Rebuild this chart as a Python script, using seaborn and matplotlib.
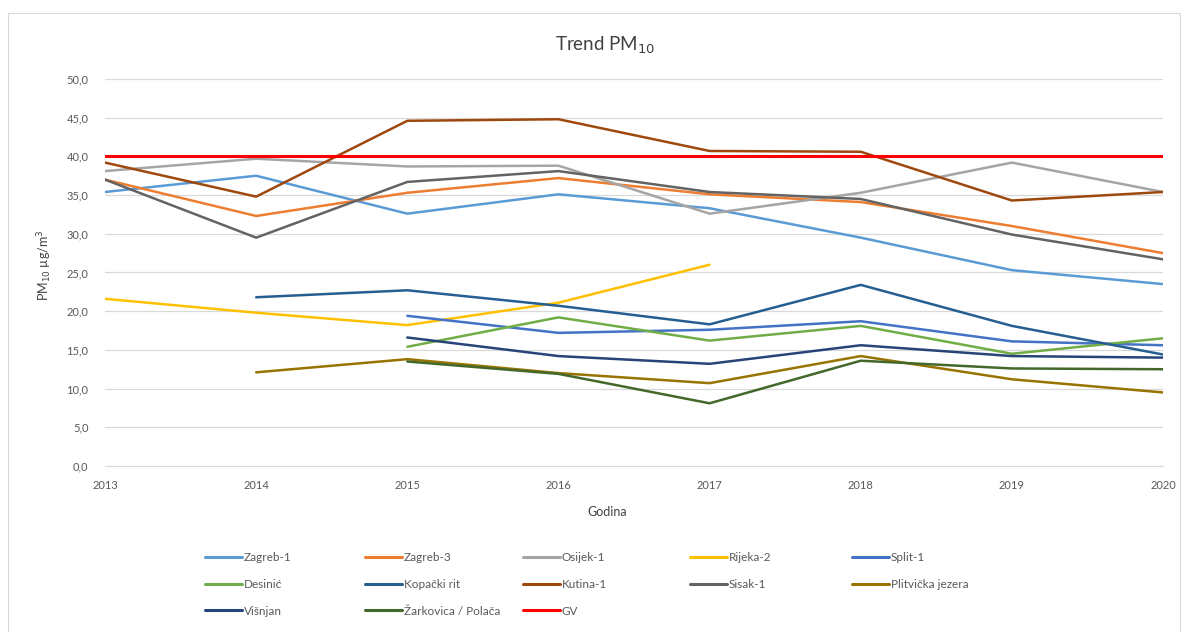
import numpy as np
import pandas as pd
import matplotlib
matplotlib.use("Agg")
import matplotlib.pyplot as plt
import seaborn as sns
from matplotlib.ticker import FuncFormatter, MultipleLocator
from matplotlib.patches import Rectangle

# data (PM10 annual means, ug/m3)
years = [2013, 2014, 2015, 2016, 2017, 2018, 2019, 2020]

zagreb_1 = [35.4, 37.5, 32.6, 35.1, 33.3, 29.5, 25.3, 23.5]
zagreb_3 = [37.0, 32.3, 35.3, 37.2, 35.1, 34.1, 31.0, 27.5]
osijek_1 = [38.1, 39.7, 38.7, 38.8, 32.6, 35.3, 39.2, 35.4]
rijeka_2 = [21.6, 19.8, 18.2, 21.1, 26.0, None, None, None]
split_1 = [None, None, 19.4, 17.2, 17.6, 18.7, 16.1, 15.6]
desinic = [None, None, 15.4, 19.2, 16.2, 18.1, 14.5, 16.5]
kopacki_rit = [None, 21.8, 22.7, 20.7, 18.3, 23.4, 18.1, 14.4]
kutina_1 = [39.2, 34.8, 44.6, 44.8, 40.7, 40.6, 34.3, 35.4]
sisak_1 = [37.0, 29.5, 36.7, 38.1, 35.4, 34.5, 29.9, 26.7]
plitvicka = [None, 12.1, 13.8, 12.0, 10.7, 14.2, 11.2, 9.5]
visnjan = [None, None, 16.6, 14.2, 13.2, 15.6, 14.2, 14.0]
zarkovica = [None, None, 13.5, 11.9, 8.1, 13.6, 12.6, 12.5]
gv = [40.0] * 8

series = {
    "Zagreb-1": zagreb_1,
    "Zagreb-3": zagreb_3,
    "Osijek-1": osijek_1,
    "Rijeka-2": rijeka_2,
    "Split-1": split_1,
    "Desinić": desinic,
    "Kopački rit": kopacki_rit,
    "Kutina-1": kutina_1,
    "Sisak-1": sisak_1,
    "Plitvička jezera": plitvicka,
    "Višnjan": visnjan,
    "Žarkovica / Polača": zarkovica,
    "GV": gv,
}

colors = {
    "Zagreb-1": "#5B9BD5",
    "Zagreb-3": "#ED7D31",
    "Osijek-1": "#A5A5A5",
    "Rijeka-2": "#FFC000",
    "Split-1": "#4472C4",
    "Desinić": "#70AD47",
    "Kopački rit": "#255E91",
    "Kutina-1": "#9E480E",
    "Sisak-1": "#636363",
    "Plitvička jezera": "#997300",
    "Višnjan": "#264478",
    "Žarkovica / Polača": "#43682B",
    "GV": "#FF0000",
}

rows = []
for name, vals in series.items():
    for y, v in zip(years, vals):
        if v is not None:
            rows.append({"Godina": y, "PM10": v, "Postaja": name})
df = pd.DataFrame(rows)

sns.set_style("white")
plt.rcParams['font.family'] = ['Lato', 'DejaVu Sans']

fig = plt.figure(figsize=(11.88, 6.32), dpi=100)
ax = fig.add_axes([0.0884, 0.2627, 0.8906, 0.6123])

names = list(series.keys())
sizes = {n: (2.2 if n == "GV" else 1.8) for n in names}
sns.lineplot(data=df, x="Godina", y="PM10", hue="Postaja", palette=colors,
             hue_order=names, size="Postaja", sizes=sizes,
             size_order=names, ax=ax, legend=False)

ax.set_xlim(2013, 2020)
ax.set_ylim(0, 50)
ax.set_xticks(years)
ax.set_xticklabels([str(y) for y in years])
ax.yaxis.set_major_locator(MultipleLocator(5))
ax.yaxis.set_major_formatter(FuncFormatter(lambda v, p: f"{v:.1f}".replace(".", ",")))
ax.grid(axis="y", color="#D9D9D9", linewidth=0.9)
ax.set_axisbelow(True)
for s in ["top", "right", "left"]:
    ax.spines[s].set_visible(False)
ax.spines["bottom"].set_color("#D9D9D9")
ax.tick_params(axis="both", length=0, labelsize=8, labelcolor="#595959")
ax.tick_params(axis="x", pad=10)
ax.tick_params(axis="y", pad=12)
ax.set_xlabel("")
ax.set_ylabel("")

fig.text(0.509, 0.928, "Trend PM$_{10}$", ha="center", va="center",
         fontsize=13.5, color="#404040")
fig.text(0.511, 0.19, "Godina", ha="center", va="center", fontsize=9,
         color="#404040")
fig.text(0.038, 0.58, "PM$_{10}$ µg/m$^3$", ha="center", va="center",
         rotation=90, fontsize=9, color="#404040")

# legend: five columns placed like the original (row-wise order)
col_x = [205, 365, 523, 690, 852]
for c in range(5):
    idx = list(range(c, len(names), 5))
    hs = [plt.Line2D([], [], color=colors[names[i]], lw=2.2) for i in idx]
    leg = fig.legend(hs, [names[i] for i in idx], loc="upper left",
                     bbox_to_anchor=(col_x[c] / 1188, 0.127),
                     frameon=False, fontsize=8.5, handlelength=3.1,
                     handletextpad=0.2, labelspacing=1.35,
                     borderpad=0, borderaxespad=0)
    for t in leg.get_texts():
        t.set_color("#595959")

fig.patches.append(Rectangle((0.007, -0.01), 0.986, 0.99, transform=fig.transFigure,
                             fill=False, edgecolor="#D9D9D9", linewidth=0.8))

fig.savefig("out.png", dpi=100)
